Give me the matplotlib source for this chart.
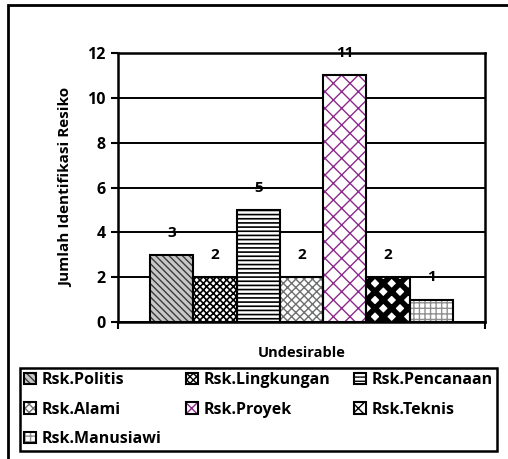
import matplotlib
matplotlib.use('Agg')
import matplotlib.pyplot as plt
from matplotlib.patches import Rectangle
from matplotlib.legend_handler import HandlerTuple

plt.rcParams['font.family'] = ['Open Sans', 'DejaVu Sans']
plt.rcParams['font.weight'] = 'bold'
plt.rcParams['hatch.linewidth'] = 1.0

# data
CATEGORY = 'Undesirable'
RISKS = ['Rsk.Politis', 'Rsk.Lingkungan', 'Rsk.Pencanaan', 'Rsk.Alami',
         'Rsk.Proyek', 'Rsk.Teknis', 'Rsk.Manusiawi']
COUNTS = [3, 2, 5, 2, 11, 2, 1]
Y_TICKS = [0, 2, 4, 6, 8, 10, 12]

# (face, hatch, hatch colour, hatch width) per series
STYLES = [
    ('#c8c8c8', '\\\\\\\\\\', '#3a3a3a', 1.0),
    ('white', 'xxxxx', 'black', 1.2),
    ('white', '----', 'black', 1.2),
    ('white', 'xxxx', '#707070', 1.0),
    ('white', 'xx', '#8b2a8b', 1.0),
    ('white', 'xx', 'black', 4.0),
    ('white', '+++', '#909090', 1.0),
]

W, H = 508, 459
fig = plt.figure(figsize=(W / 100, H / 100), dpi=100)
ax = fig.add_axes([118 / W, 1 - 322 / H, (485 - 118) / W, (322 - 53) / H])

# outer chart frame
fig.patches.append(Rectangle((8 / W, -0.05), 1.1, 1 - 5 / H + 0.05,
                             transform=fig.transFigure, fill=False,
                             edgecolor='black', lw=2))

handles = []
for i, (name, val, (fc, hatch, hc, hw)) in enumerate(zip(RISKS, COUNTS, STYLES)):
    with plt.rc_context({'hatch.linewidth': hw}):
        fill = ax.bar(i, val, width=1.0, color=fc, edgecolor=hc, hatch=hatch,
                      lw=0, zorder=2)[0]
    edge = ax.bar(i, val, width=1.0, fill=False, edgecolor='black',
                  lw=1.5, zorder=3)[0]
    handles.append((fill, edge))
    ax.annotate(str(val), (i, val), textcoords='offset points', xytext=(0, 16),
                ha='center', va='center', fontsize=11, fontweight='bold',
                zorder=4)

ax.set_xlim(-1.238, 7.238)
ax.set_ylim(0, 12)
ax.set_yticks(Y_TICKS)
ax.set_xticks([-1.238, 7.238])
ax.set_xticklabels([])
ax.tick_params(axis='y', direction='out', length=5, width=1.5, labelsize=11.5, pad=4)
ax.tick_params(axis='x', direction='out', length=5, width=1.5)
ax.yaxis.grid(True, color='black', lw=1.4, zorder=1)
ax.set_axisbelow(True)
for s in ax.spines.values():
    s.set_color('black')
    s.set_linewidth(1.8)

ax.set_xlabel(CATEGORY, fontsize=10.5, fontweight='bold', labelpad=9)
ax.set_ylabel('Jumlah Identifikasi Resiko', fontsize=11, fontweight='bold', labelpad=10)

# row-major ordering for a 3-column legend
order = [0, 3, 6, 1, 4, 2, 5]
leg = fig.legend([handles[k] for k in order], [RISKS[k] for k in order],
                 handler_map={tuple: HandlerTuple(ndivide=1, pad=0)},
                 loc='upper left', ncol=3, mode='expand',
                 bbox_to_anchor=(20 / W, 1 - 452 / H, (497 - 20) / W, (452 - 368) / H),
                 prop={'weight': 'bold', 'size': 11.5},
                 handlelength=0.75, handleheight=0.75, handletextpad=0.35,
                 labelspacing=0.85, borderpad=0.25, borderaxespad=0,
                 columnspacing=0.3, fancybox=False, framealpha=1)
leg.get_frame().set_edgecolor('black')
leg.get_frame().set_linewidth(1.8)

fig.savefig('out.png', dpi=100)
